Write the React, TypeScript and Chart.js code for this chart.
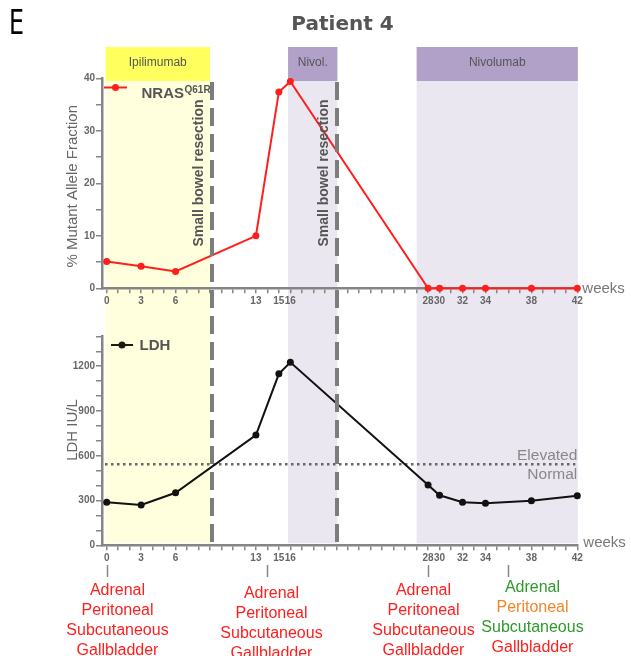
import React, { useEffect, useRef } from 'react';
import { Chart, registerables } from 'chart.js';

Chart.register(...registerables);

// ---- data ----
const weekPositions = [0, 3, 6, 13, 15, 16, 28, 29, 31, 33, 37, 41];
const weekLabels = ['0', '3', '6', '13', '15', '16', '28', '30', '32', '34', '38', '42'];
const nrasValues = [5.1, 4.2, 3.2, 10.0, 37.4, 39.4, 0, 0, 0, 0, 0, 0];
const ldhValues = [288, 270, 352, 739, 1149, 1226, 404, 335, 288, 281, 299, 332];
const ldhUpperNormal = 543;
const resectionWeeks = [9.15, 20.05];
const treatmentNames = ['Ipilimumab', 'Nivol.', 'Nivolumab'];
const treatmentStart = [-0.1, 15.8, 27.0];
const treatmentEnd = [9.0, 20.1, 41.05];
const scanWeeks = [0, 14, 28, 35];
const scanSites = ['Adrenal', 'Peritoneal', 'Subcutaneous', 'Gallbladder'];

// ---- styles ----
const FONT = '"Liberation Sans", Arial, sans-serif';
const RED = '#FF1E1E';
const GREEN = '#2E9A2E';
const ORANGE = '#F0862A';
const scanColors = [
  [RED, RED, RED, RED],
  [RED, RED, RED, RED],
  [RED, RED, RED, RED],
  [GREEN, ORANGE, GREEN, RED],
];
const scanLabelOffsets = [10, 4, -5, 24];
const headerColors = ['#FFFF5E', '#B1A1C8', '#B1A1C8'];
const bandColors = ['#FFFFDD', '#EAE7F1', '#EAE7F1'];
const AXIS = '#858585';
const X_MIN = -0.41;
const X_MAX = 41;
const TOP_H = 312;
const BOT_H = 656 - TOP_H;
const DASH = [18, 8];

function xScaleOpts(height: number) {
  return {
    type: 'linear' as const,
    min: X_MIN,
    max: X_MAX,
    afterBuildTicks: (s: any) => {
      const t: any[] = [];
      for (let i = 0; i <= 41; i++) t.push({ value: i });
      s.ticks = t;
    },
    afterFit: (s: any) => {
      s.height = height;
    },
    grid: { display: true, drawOnChartArea: false, drawTicks: true, tickLength: 5, color: AXIS, lineWidth: 1.5 },
    border: { display: true, color: AXIS, width: 2.5 },
    ticks: {
      autoSkip: false,
      maxRotation: 0,
      padding: 2,
      color: '#666',
      font: { family: FONT, size: 10, weight: 'bold' as const },
      callback: (v: any) => {
        const i = weekPositions.indexOf(Number(v));
        return i >= 0 ? weekLabels[i] : '';
      },
    },
  };
}

function yScaleOpts(max: number, step: number, labelStep: number) {
  return {
    type: 'linear' as const,
    min: 0,
    max,
    afterFit: (s: any) => {
      s.width = 102;
    },
    grid: { display: true, drawOnChartArea: false, drawTicks: true, tickLength: 6, color: AXIS, lineWidth: 1.5 },
    border: { display: true, color: AXIS, width: 2.5 },
    ticks: {
      autoSkip: false,
      stepSize: step,
      padding: 1,
      color: '#666',
      font: { family: FONT, size: 10, weight: 'bold' as const },
      callback: (v: any) => (Math.round(Number(v)) % labelStep === 0 ? String(Math.round(Number(v))) : ''),
    },
  };
}

function drawBands(chart: any, y0: number, y1: number) {
  const { ctx, scales } = chart;
  const x = scales.x;
  for (let i = 0; i < treatmentNames.length; i++) {
    const a = x.getPixelForValue(treatmentStart[i]);
    const b = x.getPixelForValue(treatmentEnd[i]);
    ctx.fillStyle = bandColors[i];
    ctx.fillRect(a, y0, b - a, y1 - y0);
  }
}

function drawDashed(chart: any, y0: number, y1: number, offset: number) {
  const { ctx, scales } = chart;
  ctx.save();
  ctx.strokeStyle = '#7d7d7d';
  ctx.lineWidth = 4;
  ctx.setLineDash(DASH);
  ctx.lineDashOffset = offset;
  for (const w of resectionWeeks) {
    const px = Math.round(scales.x.getPixelForValue(w));
    ctx.beginPath();
    ctx.moveTo(px, y0);
    ctx.lineTo(px, y1);
    ctx.stroke();
  }
  ctx.restore();
}

function drawRotated(ctx: CanvasRenderingContext2D, text: string, cx: number, cy: number, font: string, color: string) {
  ctx.save();
  ctx.translate(cx, cy);
  ctx.rotate(-Math.PI / 2);
  ctx.font = font;
  ctx.fillStyle = color;
  ctx.textAlign = 'center';
  ctx.textBaseline = 'middle';
  ctx.fillText(text, 0, 0);
  ctx.restore();
}

function drawLegendMarker(ctx: CanvasRenderingContext2D, x0: number, x1: number, y: number, color: string) {
  ctx.save();
  ctx.strokeStyle = color;
  ctx.fillStyle = color;
  ctx.lineWidth = 2;
  ctx.beginPath();
  ctx.moveTo(x0, y);
  ctx.lineTo(x1, y);
  ctx.stroke();
  ctx.beginPath();
  ctx.arc((x0 + x1) / 2, y, 3.5, 0, Math.PI * 2);
  ctx.fill();
  ctx.restore();
}

const topDecor = {
  id: 'topDecor',
  beforeDraw(chart: any) {
    const { ctx, scales } = chart;
    const x = scales.x;
    ctx.save();
    drawBands(chart, 81, chart.height);
    for (let i = 0; i < treatmentNames.length; i++) {
      const a = x.getPixelForValue(treatmentStart[i]);
      const b = x.getPixelForValue(treatmentEnd[i]);
      ctx.fillStyle = headerColors[i];
      ctx.fillRect(a, 47, b - a, 34);
      ctx.fillStyle = '#555';
      ctx.font = `12px ${FONT}`;
      ctx.textAlign = 'center';
      ctx.textBaseline = 'middle';
      ctx.fillText(treatmentNames[i], (a + b) / 2, 63);
    }
    ctx.restore();
  },
  afterDraw(chart: any) {
    const { ctx, chartArea, scales } = chart;
    ctx.save();
    // panel letter (narrow)
    ctx.save();
    ctx.translate(9, 34);
    ctx.scale(0.72, 1);
    ctx.fillStyle = '#000';
    ctx.font = `normal 33px "DejaVu Sans", ${FONT}`;
    ctx.textAlign = 'left';
    ctx.textBaseline = 'alphabetic';
    ctx.fillText('E', 0, 0);
    ctx.restore();
    // title
    ctx.fillStyle = '#555';
    ctx.font = `bold 20px "DejaVu Sans", ${FONT}`;
    ctx.textAlign = 'center';
    ctx.textBaseline = 'alphabetic';
    ctx.fillText('Patient 4', 342.5, 30);
    // legend
    drawLegendMarker(ctx, 104, 127, 87.5, RED);
    ctx.fillStyle = '#555';
    ctx.font = `bold 15px ${FONT}`;
    ctx.textAlign = 'left';
    ctx.fillText('NRAS', 141.5, 97.5);
    const w = ctx.measureText('NRAS').width;
    ctx.font = `bold 10px ${FONT}`;
    ctx.fillText('Q61R', 141.5 + w + 0.5, 92.5);
    // axis title
    drawRotated(ctx, '% Mutant Allele Fraction', 72.5, (chartArea.top + chartArea.bottom) / 2 + 3, `15px ${FONT}`, '#666');
    // weeks
    ctx.fillStyle = '#777';
    ctx.font = `15px ${FONT}`;
    ctx.textAlign = 'left';
    ctx.textBaseline = 'middle';
    ctx.fillText('weeks', chartArea.right + 5, chartArea.bottom + 1);
    ctx.restore();
    // resection lines
    drawDashed(chart, 82, chart.height, 0);
    for (const wk of resectionWeeks) {
      const px = scales.x.getPixelForValue(wk);
      drawRotated(ctx, 'Small bowel resection', px - 13, 173, `bold 14px ${FONT}`, '#555');
    }
  },
};

const bottomDecor = {
  id: 'bottomDecor',
  beforeDraw(chart: any) {
    const { ctx, chartArea } = chart;
    ctx.save();
    drawBands(chart, 0, chartArea.bottom - 2);
    ctx.restore();
  },
  beforeDatasetsDraw(chart: any) {
    const { ctx, chartArea, scales } = chart;
    const y = scales.y.getPixelForValue(ldhUpperNormal);
    ctx.save();
    ctx.strokeStyle = '#666';
    ctx.lineWidth = 2.5;
    ctx.setLineDash([2.5, 3.5]);
    ctx.beginPath();
    ctx.moveTo(chartArea.left + 3, y);
    ctx.lineTo(chartArea.right - 2, y);
    ctx.stroke();
    ctx.setLineDash([]);
    ctx.fillStyle = '#888';
    ctx.font = `15.5px ${FONT}`;
    ctx.textAlign = 'right';
    ctx.textBaseline = 'alphabetic';
    ctx.fillText('Elevated', chartArea.right, y - 4);
    ctx.fillText('Normal', chartArea.right, y + 15);
    ctx.restore();
  },
  afterDraw(chart: any) {
    const { ctx, chartArea, scales } = chart;
    const x = scales.x;
    ctx.save();
    // legend
    drawLegendMarker(ctx, 111, 133, 33, '#1a1a10');
    ctx.fillStyle = '#555';
    ctx.font = `bold 15px ${FONT}`;
    ctx.textAlign = 'left';
    ctx.textBaseline = 'middle';
    ctx.fillText('LDH', 139.5, 34);
    // axis title
    drawRotated(ctx, 'LDH IU/L', 72.5, 118, `15px ${FONT}`, '#666');
    // weeks
    ctx.fillStyle = '#777';
    ctx.font = `15px ${FONT}`;
    ctx.textAlign = 'left';
    ctx.textBaseline = 'middle';
    ctx.fillText('weeks', chartArea.right + 6, chartArea.bottom - 2);
    // scans
    ctx.strokeStyle = '#888';
    ctx.lineWidth = 1.5;
    ctx.font = `16px ${FONT}`;
    ctx.textAlign = 'center';
    ctx.textBaseline = 'middle';
    for (let i = 0; i < scanWeeks.length; i++) {
      const px = Math.round(x.getPixelForValue(scanWeeks[i])) + 0.5;
      ctx.beginPath();
      ctx.moveTo(px, 253);
      ctx.lineTo(px, 265);
      ctx.stroke();
      const cx = px + scanLabelOffsets[i];
      const y0 = i === 1 ? 282 : i === 3 ? 276 : 279;
      for (let j = 0; j < scanSites.length; j++) {
        ctx.fillStyle = scanColors[i][j];
        ctx.fillText(scanSites[j], cx, y0 + j * 20);
      }
    }
    ctx.restore();
    drawDashed(chart, 0, chartArea.bottom - 3, (TOP_H - 82) % (DASH[0] + DASH[1]));
  },
};

export default function App() {
  const topRef = useRef<HTMLCanvasElement>(null);
  const botRef = useRef<HTMLCanvasElement>(null);

  useEffect(() => {
    const top = new Chart(topRef.current!, {
      type: 'line',
      data: {
        datasets: [
          {
            label: 'NRAS Q61R',
            data: weekPositions.map((w, i) => ({ x: w, y: nrasValues[i] })),
            borderColor: RED,
            backgroundColor: RED,
            borderWidth: 2,
            pointRadius: 3.5,
            pointBorderWidth: 0,
            tension: 0,
            clip: false as any,
          },
        ],
      },
      options: {
        animation: false,
        responsive: false,
        devicePixelRatio: 1,
        layout: { padding: { top: 78.3, right: 53.7, left: 0, bottom: 0 } },
        plugins: { legend: { display: false }, tooltip: { enabled: false }, title: { display: false } },
        scales: {
          x: xScaleOpts(TOP_H - 288.3) as any,
          y: yScaleOpts(40, 5, 10) as any,
        },
      },
      plugins: [topDecor],
    });
    const bot = new Chart(botRef.current!, {
      type: 'line',
      data: {
        datasets: [
          {
            label: 'LDH',
            data: weekPositions.map((w, i) => ({ x: w, y: ldhValues[i] })),
            borderColor: '#111',
            backgroundColor: '#111',
            borderWidth: 2,
            pointRadius: 3.5,
            pointBorderWidth: 0,
            tension: 0,
            clip: false as any,
          },
        ],
      },
      options: {
        animation: false,
        responsive: false,
        devicePixelRatio: 1,
        layout: { padding: { top: 336.4 - TOP_H, right: 53.7, left: 0, bottom: 0 } },
        plugins: { legend: { display: false }, tooltip: { enabled: false }, title: { display: false } },
        scales: {
          x: xScaleOpts(656 - 545.3) as any,
          y: yScaleOpts(1400, 100, 300) as any,
        },
      },
      plugins: [bottomDecor],
    });
    return () => {
      top.destroy();
      bot.destroy();
    };
  }, []);

  return (
    <div style={{ position: 'absolute', left: 0, top: 0, width: 631, height: 656, background: '#fff', overflow: 'hidden' }}>
      <canvas ref={topRef} width={631} height={TOP_H} style={{ position: 'absolute', left: 0, top: 0, width: 631, height: TOP_H }} />
      <canvas ref={botRef} width={631} height={BOT_H} style={{ position: 'absolute', left: 0, top: TOP_H, width: 631, height: BOT_H }} />
    </div>
  );
}
